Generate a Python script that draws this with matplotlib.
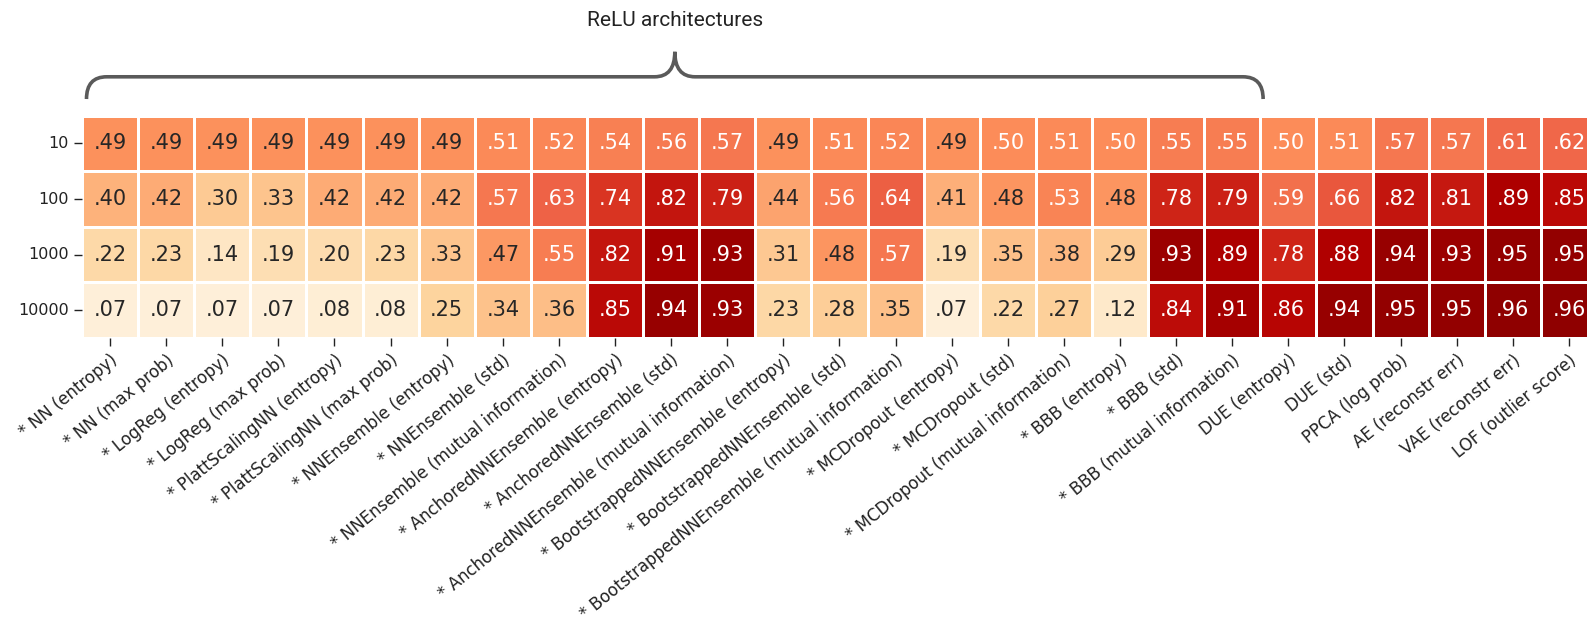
import numpy as np
import matplotlib
matplotlib.use("Agg")
import matplotlib.pyplot as plt
from matplotlib.path import Path
from matplotlib.patches import PathPatch
import seaborn as sns

# data
methods = [
    "* NN (entropy)", "* NN (max prob)", "* LogReg (entropy)", "* LogReg (max prob)",
    "* PlattScalingNN (entropy)", "* PlattScalingNN (max prob)",
    "* NNEnsemble (entropy)", "* NNEnsemble (std)", "* NNEnsemble (mutual information)",
    "* AnchoredNNEnsemble (entropy)", "* AnchoredNNEnsemble (std)",
    "* AnchoredNNEnsemble (mutual information)",
    "* BootstrappedNNEnsemble (entropy)", "* BootstrappedNNEnsemble (std)",
    "* BootstrappedNNEnsemble (mutual information)",
    "* MCDropout (entropy)", "* MCDropout (std)", "* MCDropout (mutual information)",
    "* BBB (entropy)", "* BBB (std)", "* BBB (mutual information)",
    "DUE (entropy)", "DUE (std)", "PPCA (log prob)", "AE (reconstr err)",
    "VAE (reconstr err)", "LOF (outlier score)",
]
train_sizes = ["10", "100", "1000", "10000"]

auc_10 = [.49, .49, .49, .49, .49, .49, .49, .51, .52, .54, .56, .57, .49, .51, .52,
          .49, .50, .51, .50, .55, .55, .50, .51, .57, .57, .61, .62]
auc_100 = [.40, .42, .30, .33, .42, .42, .42, .57, .63, .74, .82, .79, .44, .56, .64,
           .41, .48, .53, .48, .78, .79, .59, .66, .82, .81, .89, .85]
auc_1000 = [.22, .23, .14, .19, .20, .23, .33, .47, .55, .82, .91, .93, .31, .48, .57,
            .19, .35, .38, .29, .93, .89, .78, .88, .94, .93, .95, .95]
auc_10000 = [.07, .07, .07, .07, .08, .08, .25, .34, .36, .85, .94, .93, .23, .28, .35,
             .07, .22, .27, .12, .84, .91, .86, .94, .95, .95, .96, .96]

n_relu = 21  # starred methods use ReLU architectures
bracket_label = "ReLU architectures"

values = np.array([auc_10, auc_100, auc_1000, auc_10000])
annot = np.array([[f"{v:.2f}"[1:] for v in row] for row in values])

fig = plt.figure(figsize=(15.87, 6.32), dpi=100)
ax = fig.add_axes([82 / 1587, 1 - 338 / 632, 1515 / 1587, 222.3 / 632])

sns.heatmap(values, ax=ax, cmap="OrRd", vmin=0, vmax=1, annot=annot, fmt="",
            annot_kws={"fontsize": 15}, linewidths=1, linecolor="white",
            cbar=False, xticklabels=methods, yticklabels=train_sizes)

ax.set_xticklabels(methods, rotation=39, ha="right", rotation_mode="anchor",
                   fontsize=12, color="#222222")
ax.set_yticklabels(train_sizes, rotation=0, fontsize=11.5, color="#222222")
ax.tick_params(length=6, width=1, color="#222222")

# curly bracket above the ReLU methods
x0, x1 = 0.08, n_relu + 0.05
xc = (x0 + x1) / 2
y_end, y_bar, y_tip = -0.30, -0.70, -1.15
r = 0.36
verts = [
    (x0, y_end), (x0, y_bar), (x0 + r, y_bar),
    (xc - r, y_bar),
    (xc, y_bar), (xc, y_tip),
    (xc, y_bar), (xc + r, y_bar),
    (x1 - r, y_bar),
    (x1, y_bar), (x1, y_end),
]
codes = [Path.MOVETO, Path.CURVE3, Path.CURVE3, Path.LINETO,
         Path.CURVE3, Path.CURVE3, Path.CURVE3, Path.CURVE3,
         Path.LINETO, Path.CURVE3, Path.CURVE3]
ax.add_patch(PathPatch(Path(verts, codes), fill=False, edgecolor="#5a5a5a",
                       linewidth=2.6, clip_on=False, capstyle="butt"))
ax.text(xc, -1.72, bracket_label, ha="center", va="center", fontsize=15,
        family="Roboto", color="#222222", clip_on=False)

plt.savefig("out.png", dpi=100)
plt.close(fig)
print("saved out.png")
